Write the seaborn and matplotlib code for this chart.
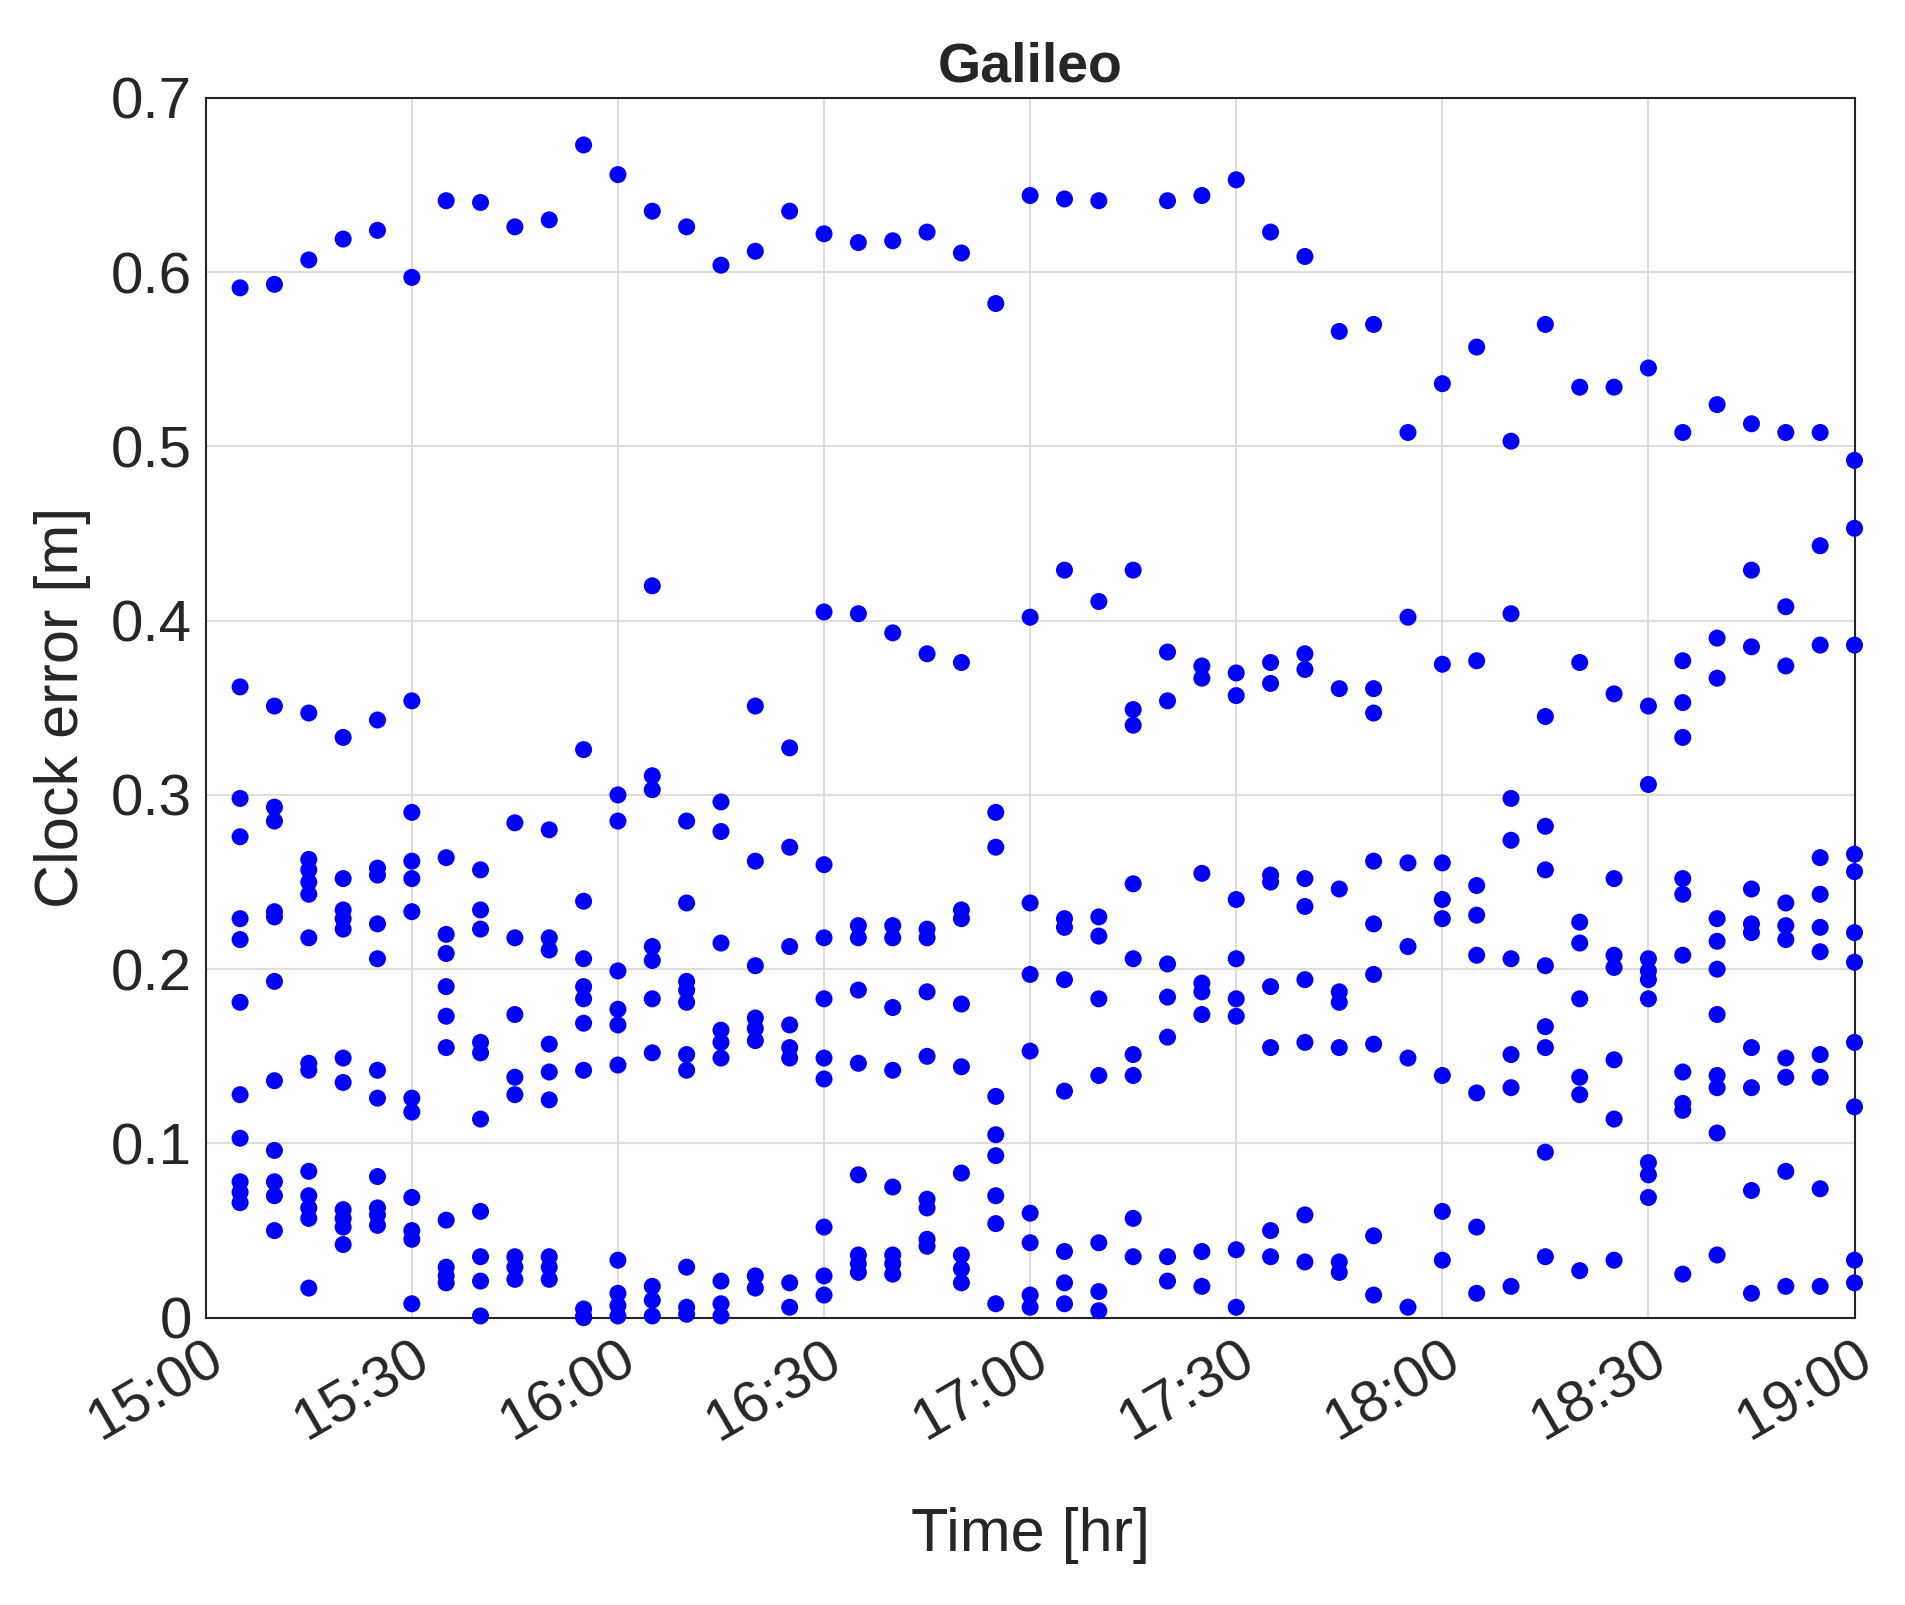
import matplotlib
matplotlib.use("Agg")
import matplotlib.pyplot as plt
import seaborn as sns
import pandas as pd
import numpy as np

times = ["15:05","15:10","15:15","15:20","15:25","15:30","15:35","15:40","15:45","15:50","15:55","16:00",
         "16:05","16:10","16:15","16:20","16:25","16:30","16:35","16:40","16:45","16:50","16:55","17:00",
         "17:05","17:10","17:15","17:20","17:25","17:30","17:35","17:40","17:45","17:50","17:55","18:00",
         "18:05","18:10","18:15","18:20","18:25","18:30","18:35","18:40","18:45","18:50","18:55","19:00"]
clock_error = [
 [0.591,0.362,0.298,0.276,0.229,0.217,0.181,0.128,0.103,0.078,0.072,0.066],
 [0.593,0.351,0.293,0.285,0.233,0.230,0.193,0.136,0.096,0.078,0.070,0.050],
 [0.607,0.347,0.263,0.257,0.250,0.243,0.218,0.146,0.142,0.084,0.070,0.063,0.057,0.017],
 [0.619,0.333,0.252,0.234,0.229,0.223,0.149,0.135,0.062,0.057,0.052,0.042],
 [0.624,0.343,0.258,0.254,0.226,0.206,0.142,0.126,0.081,0.063,0.059,0.053],
 [0.597,0.354,0.290,0.262,0.252,0.233,0.126,0.118,0.069,0.050,0.045,0.008],
 [0.641,0.264,0.220,0.209,0.190,0.173,0.155,0.056,0.029,0.024,0.020],
 [0.640,0.257,0.234,0.223,0.158,0.152,0.114,0.061,0.035,0.021,0.001],
 [0.626,0.284,0.218,0.174,0.138,0.128,0.035,0.029,0.022],
 [0.630,0.280,0.218,0.211,0.157,0.141,0.125,0.035,0.029,0.022],
 [0.673,0.326,0.239,0.206,0.190,0.183,0.169,0.142,0.005,0.001,0.0],
 [0.656,0.300,0.285,0.199,0.177,0.168,0.145,0.033,0.014,0.007,0.001],
 [0.635,0.420,0.311,0.303,0.213,0.205,0.183,0.152,0.018,0.010,0.001],
 [0.626,0.285,0.238,0.193,0.188,0.181,0.151,0.142,0.029,0.006,0.002],
 [0.604,0.296,0.279,0.215,0.165,0.158,0.149,0.021,0.008,0.001],
 [0.612,0.351,0.262,0.202,0.172,0.166,0.159,0.024,0.017],
 [0.635,0.327,0.270,0.213,0.168,0.155,0.149,0.020,0.006],
 [0.622,0.405,0.260,0.218,0.183,0.149,0.137,0.052,0.024,0.013],
 [0.617,0.404,0.225,0.218,0.188,0.146,0.082,0.036,0.031,0.026],
 [0.618,0.393,0.225,0.218,0.178,0.142,0.075,0.036,0.031,0.025],
 [0.623,0.381,0.223,0.218,0.187,0.150,0.068,0.063,0.045,0.041],
 [0.611,0.376,0.234,0.229,0.180,0.144,0.083,0.036,0.028,0.020],
 [0.582,0.290,0.270,0.127,0.105,0.093,0.070,0.054,0.008],
 [0.644,0.402,0.238,0.197,0.153,0.060,0.043,0.013,0.006],
 [0.642,0.429,0.229,0.224,0.194,0.130,0.038,0.020,0.008],
 [0.641,0.411,0.230,0.219,0.183,0.139,0.043,0.015,0.004],
 [0.429,0.349,0.340,0.249,0.206,0.151,0.139,0.057,0.035],
 [0.641,0.382,0.354,0.203,0.184,0.161,0.035,0.021],
 [0.644,0.374,0.367,0.255,0.192,0.187,0.174,0.038,0.018],
 [0.653,0.370,0.357,0.240,0.206,0.183,0.173,0.039,0.006],
 [0.623,0.376,0.364,0.254,0.250,0.190,0.155,0.050,0.035],
 [0.609,0.381,0.372,0.252,0.236,0.194,0.158,0.059,0.032],
 [0.566,0.361,0.246,0.187,0.181,0.155,0.032,0.026],
 [0.570,0.361,0.347,0.262,0.226,0.197,0.157,0.047,0.013],
 [0.508,0.402,0.261,0.213,0.149,0.006],
 [0.536,0.375,0.261,0.240,0.229,0.139,0.061,0.033],
 [0.557,0.377,0.248,0.231,0.208,0.129,0.052,0.014],
 [0.503,0.404,0.298,0.274,0.206,0.151,0.132,0.018],
 [0.570,0.345,0.282,0.257,0.202,0.167,0.155,0.095,0.035],
 [0.534,0.376,0.227,0.215,0.183,0.138,0.128,0.027],
 [0.534,0.358,0.252,0.208,0.201,0.148,0.114,0.033],
 [0.545,0.351,0.306,0.206,0.199,0.194,0.183,0.089,0.082,0.069],
 [0.508,0.377,0.353,0.333,0.252,0.243,0.208,0.141,0.123,0.119,0.025],
 [0.524,0.390,0.367,0.229,0.216,0.200,0.174,0.139,0.132,0.106,0.036],
 [0.513,0.429,0.385,0.246,0.226,0.221,0.155,0.132,0.073,0.014],
 [0.508,0.408,0.374,0.238,0.225,0.217,0.149,0.138,0.084,0.018],
 [0.508,0.443,0.386,0.264,0.243,0.224,0.210,0.151,0.138,0.074,0.018],
 [0.492,0.453,0.386,0.266,0.256,0.221,0.204,0.158,0.121,0.033,0.020],
]
tick_labels = ["15:00","15:30","16:00","16:30","17:00","17:30","18:00","18:30","19:00"]

def to_h(s):
    h, m = s.split(":")
    return int(h) + int(m) / 60

rows = [(to_h(t), v) for t, vals in zip(times, clock_error) for v in vals]
df = pd.DataFrame(rows, columns=["time", "err"])

sns.set_style("whitegrid")
plt.rcParams['font.family'] = ['Liberation Sans', 'DejaVu Sans']
fig = plt.figure(figsize=(19.05, 16.05), dpi=100)
ax = fig.add_axes([0.108, 0.179, 0.870 - 0.0045, 0.760])
sns.scatterplot(data=df, x="time", y="err", ax=ax, color="#0000FF", s=150,
                edgecolor="none", zorder=3, clip_on=False)
ax.set_xlim(15, 19)
ax.set_ylim(0, 0.7)
ax.set_xticks([to_h(t) for t in tick_labels])
ax.set_xticklabels(tick_labels, rotation=30, ha="right", rotation_mode="anchor")
ax.set_yticks(np.arange(0, 0.71, 0.1))
ax.set_yticklabels(["0", "0.1", "0.2", "0.3", "0.4", "0.5", "0.6", "0.7"])
ax.tick_params(labelsize=42, colors="#262626", length=0, pad=10)
ax.grid(True, color="#dddddd", linewidth=1.5)
for sp in ax.spines.values():
    sp.set_visible(True); sp.set_color("#262626"); sp.set_linewidth(1.5)
ax.set_xlabel("Time [hr]", fontsize=44, color="#262626", labelpad=40)
ax.set_ylabel("Clock error [m]", fontsize=44, color="#262626", labelpad=14)
ax.set_title("Galileo", fontsize=40, fontweight="bold", pad=12)
fig.savefig("out.png", dpi=100, facecolor="white")
